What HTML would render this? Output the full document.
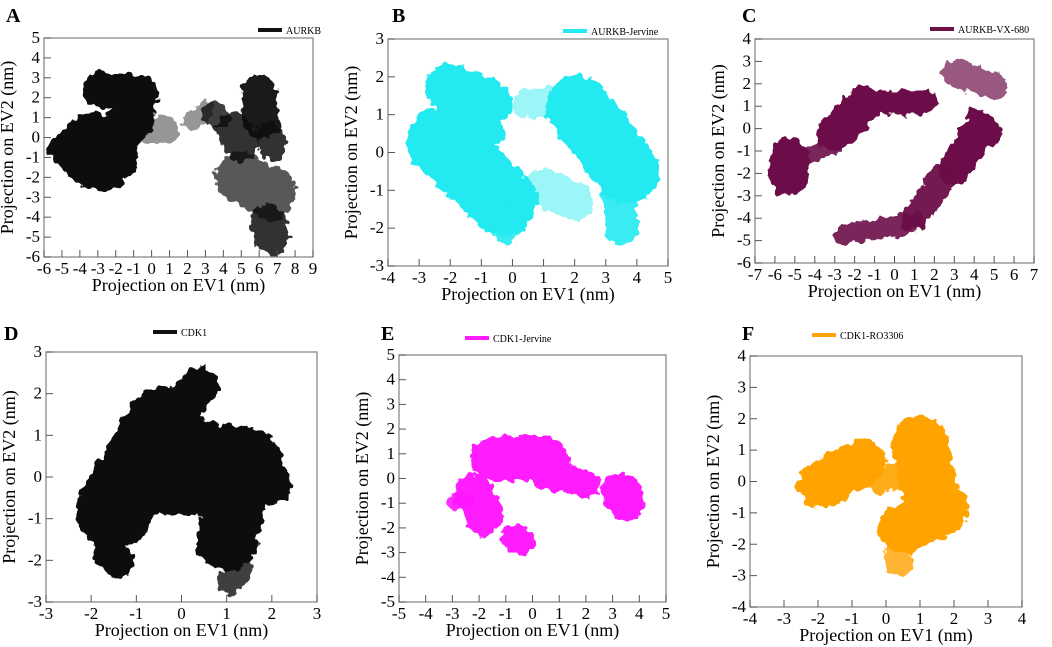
<!DOCTYPE html>
<html><head><meta charset="utf-8"><style>
body{margin:0;background:#fff;width:1052px;height:647px;overflow:hidden}
svg{display:block;font-family:"Liberation Serif",serif}
</style></head><body>
<svg id="fig" width="1052" height="647" viewBox="0 0 1052 647">
<defs>
<filter id="rough" filterUnits="userSpaceOnUse" x="0" y="0" width="1052" height="647">
<feTurbulence type="fractalNoise" baseFrequency="0.12" numOctaves="2" seed="3" result="n"/>
<feDisplacementMap in="SourceGraphic" in2="n" scale="12" xChannelSelector="R" yChannelSelector="G"/>
</filter>
</defs>
</svg>
<script>
// Cluster segments per panel: [x1, y1, x2, y2, halfThickness, opacity] in data units
const segA = [[-3.2,-0.6,-2.8,-0.9,1.8,1],[-2.8,2.4,-0.6,2.2,0.9,1],[-1.8,0.2,-1.0,1.0,1.1,1],[-5,-0.6,-4.6,-0.8,0.7,1],
  [6,2.2,6.1,0.8,0.9,0.95],[4.6,0.4,5.0,-0.3,0.9,0.85],[3.4,1.2,3.8,1.0,0.6,0.8],[2.2,0.8,3.0,1.4,0.45,0.45],
  [5.0,-2.0,6.6,-2.8,1.3,0.7],[6.5,-4.2,6.7,-5.0,0.9,0.85],[6.5,0.1,6.8,-0.4,0.7,0.85],[0,0.3,0.8,0.4,0.7,0.45]];
const segB = [[-2.3,0.3,-0.3,-1.3,0.9,1],[-2,1.7,-0.8,1.3,0.65,1],[-1.6,1.0,-1.0,0.6,0.6,1],[2.1,1.2,3.7,-0.5,0.85,1],[3.4,-1.2,3.5,-2.0,0.45,0.9],
  [1.0,-0.9,2.0,-1.3,0.5,0.45],[0.5,1.3,1.5,1.4,0.4,0.45],[-0.4,-1.6,-0.2,-2.0,0.4,0.9]];
const segC = [[-5.3,-1.3,-5.3,-2.1,0.9,1],[-4.5,-1.2,-3,-0.8,0.35,0.9],[-3,-0.2,-1.5,1.1,0.8,1],[-1.5,1.1,1.5,1.2,0.55,1],
  [4.3,0,3,-1.8,0.75,1],[2.5,-2.1,1,-4.0,0.6,0.95],[1,-4.2,-2.5,-4.7,0.45,0.9],[3,2.5,5,1.9,0.6,0.7],[4.2,0.3,4.7,-0.2,0.6,1]];
const segD = [[-1.5,-0.8,-0.4,1.3,0.9,1],[0,0.5,1.4,0.3,0.9,1],[1.0,-1.5,1.3,0.2,0.75,1],[2.0,-0.2,2.0,-0.1,0.45,1],
  [0.1,1.8,0.4,2.2,0.45,1],[-1.6,-1.8,-1.4,-2.0,0.4,1],[1.3,-2.2,1.1,-2.5,0.3,0.8],[-0.3,-0.5,0.8,-0.5,0.4,1]];
const segE = [[-1.5,0.8,0.5,0.8,0.9,1],[0.5,0.2,2,-0.2,0.6,1],[3.3,-0.6,3.5,-0.9,0.8,1],[-2.2,-0.6,-1.8,-1.5,0.8,1],
  [-0.7,-2.4,-0.4,-2.5,0.55,1],[-2.9,-0.9,-2.5,-0.9,0.35,0.9]];
const segF = [[-1.9,-0.1,-0.7,0.6,0.75,1],[1.0,1.2,1.3,-0.4,0.9,1],[0.5,-1.5,1.7,-0.9,0.8,1],[0.3,-2.2,0.4,-2.6,0.4,0.8],[-0.2,0.0,0.3,0.2,0.4,0.9]];
// Axis ticks
const ticksA = {x:[-6,-5,-4,-3,-2,-1,0,1,2,3,4,5,6,7,8,9], y:[-6,-5,-4,-3,-2,-1,0,1,2,3,4,5]};
const ticksB = {x:[-4,-3,-2,-1,0,1,2,3,4,5], y:[-3,-2,-1,0,1,2,3]};
const ticksC = {x:[-7,-6,-5,-4,-3,-2,-1,0,1,2,3,4,5,6,7], y:[-6,-5,-4,-3,-2,-1,0,1,2,3,4]};
const ticksD = {x:[-3,-2,-1,0,1,2,3], y:[-3,-2,-1,0,1,2,3]};
const ticksE = {x:[-5,-4,-3,-2,-1,0,1,2,3,4,5], y:[-5,-4,-3,-2,-1,0,1,2,3,4,5]};
const ticksF = {x:[-4,-3,-2,-1,0,1,2,3,4], y:[-4,-3,-2,-1,0,1,2,3,4]};

const NS="http://www.w3.org/2000/svg";
const svg=document.getElementById('fig');
function mk(tag,attrs,parent){const e=document.createElementNS(NS,tag);for(const k in attrs)e.setAttribute(k,attrs[k]);(parent||svg).appendChild(e);return e;}

const panels=[
 {id:'a',L:'A',seg:segA,t:ticksA,box:[44,38,313,257],color:'#111',leg:'AURKB',lx:258,ly:30,letter:[6,22]},
 {id:'b',L:'B',seg:segB,t:ticksB,box:[388,39,668,266],color:'#22eaf0',leg:'AURKB-Jervine',lx:563,ly:31,letter:[392,22]},
 {id:'c',L:'C',seg:segC,t:ticksC,box:[755,39,1034,263],color:'#6c1048',leg:'AURKB-VX-680',lx:930,ly:29,letter:[742,22]},
 {id:'d',L:'D',seg:segD,t:ticksD,box:[46,352,317,602],color:'#111',leg:'CDK1',lx:153,ly:332,letter:[4,340]},
 {id:'e',L:'E',seg:segE,t:ticksE,box:[399,355,666,602],color:'#ff1aff',leg:'CDK1-Jervine',lx:465,ly:338,letter:[381,340]},
 {id:'f',L:'F',seg:segF,t:ticksF,box:[750,356,1022,607],color:'#ffa305',leg:'CDK1-RO3306',lx:812,ly:335,letter:[742,340]}
];

panels.forEach(p=>{
  const g=mk('g',{});
  
  
  const [x0,y0,x1,y1]=p.box;
  const xmin=p.t.x[0],xmax=p.t.x[p.t.x.length-1],ymin=p.t.y[0],ymax=p.t.y[p.t.y.length-1];
  const sx=v=>x0+(v-xmin)/(xmax-xmin)*(x1-x0);
  const sy=v=>y1-(v-ymin)/(ymax-ymin)*(y1-y0);
  const ky=(y1-y0)/(ymax-ymin);
  const cg=mk('g',{filter:'url(#rough)'},g);
  
  
  p.seg.forEach(s=>{
    const l=mk('line',{x1:sx(s[0]),y1:sy(s[1]),x2:sx(s[2]),y2:sy(s[3]),stroke:p.color,'stroke-width':2*s[4]*ky,'stroke-linecap':'round','stroke-opacity':s[5]},cg);
    
    
  });
  const r=mk('rect',{x:x0,y:y0,width:x1-x0,height:y1-y0,fill:'none',stroke:'#8a8a8a','stroke-width':1.3},g);
  
  
  p.t.x.forEach(v=>{
    mk('line',{x1:sx(v),x2:sx(v),y1:y1,y2:y1-7,stroke:'#555'},g);
    const t=mk('text',{x:sx(v),y:y1+17,'font-size':17,'text-anchor':'middle'},g);
    t.textContent=v;
    
    
  });
  p.t.y.forEach(v=>{
    mk('line',{x1:x0,x2:x0+7,y1:sy(v),y2:sy(v),stroke:'#555'},g);
    const t=mk('text',{x:x0-4,y:sy(v)+5,'font-size':17,'text-anchor':'end'},g);
    t.textContent=v;
    
    
  });
  const xt=mk('text',{x:(x0+x1)/2,y:y1+34,'font-size':18,'text-anchor':'middle'},g);
  xt.textContent='Projection on EV1 (nm)';
  
  
  const yc=(y0+y1)/2, yx=x0-31;
  const yt=mk('text',{x:yx,y:yc,'font-size':18,'text-anchor':'middle',transform:`rotate(-90 ${yx} ${yc})`},g);
  yt.textContent='Projection on EV2 (nm)';
  
  
  const lt=mk('text',{x:p.letter[0],y:p.letter[1],'font-size':20,'font-weight':'bold'},g);
  lt.textContent=p.L;
  
  
  const lg=mk('g',{},g);
  
  
  mk('line',{x1:p.lx,x2:p.lx+24,y1:p.ly,y2:p.ly,stroke:p.color,'stroke-width':4},lg);
  const ltx=mk('text',{x:p.lx+28,y:p.ly+4,'font-size':10},lg);
  ltx.textContent=p.leg;
});
</script>
</body></html>
